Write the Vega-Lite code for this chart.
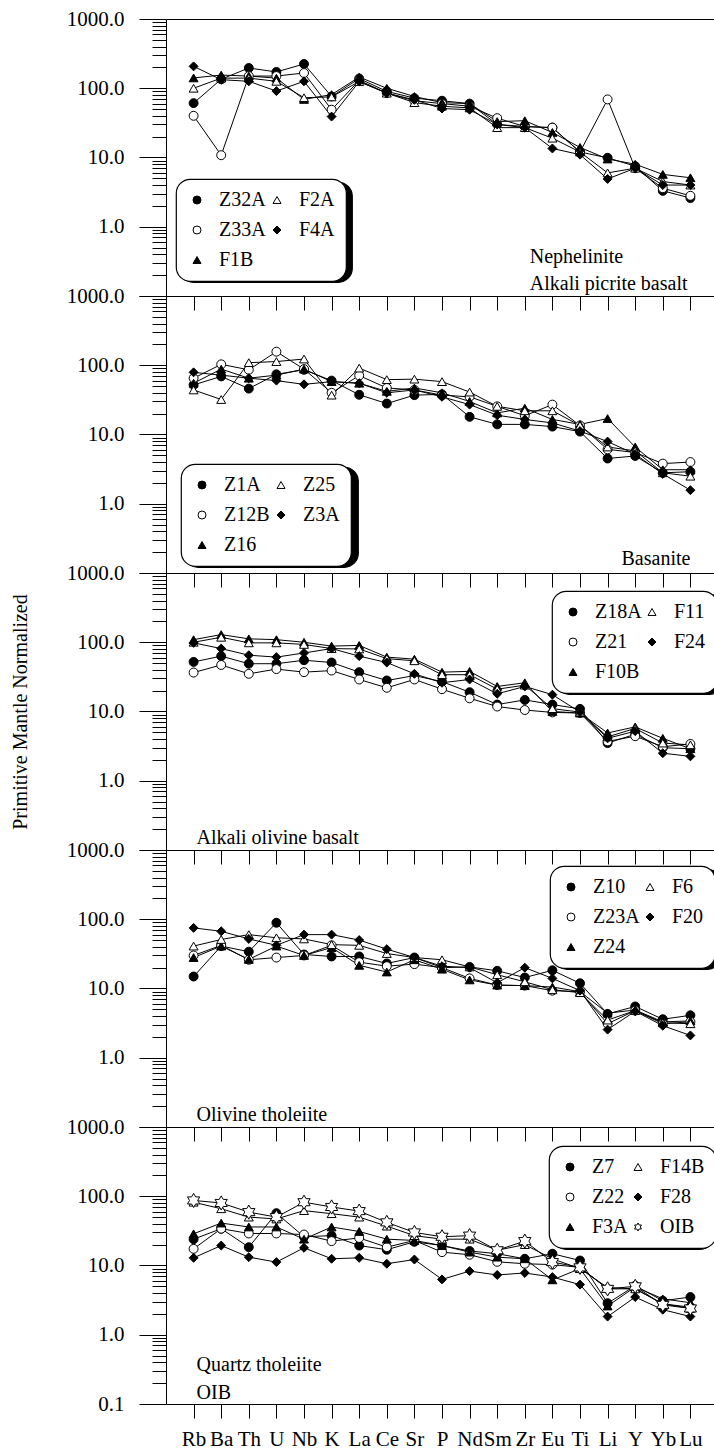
{
"$schema":"https://vega.github.io/schema/vega-lite/v6.json",
"background":"white",
"padding":{"left":9,"top":7,"right":0,"bottom":0},
"spacing":0,
"bounds":"flush",
"config":{
 "font":"Liberation Serif, Times New Roman, serif",
 "view":{"stroke":"black","strokeWidth":1},
 "axis":{"labelFont":"Liberation Serif, Times New Roman, serif","labelColor":"black","tickColor":"black","domain":false,"grid":false,"titleFont":"Liberation Serif, Times New Roman, serif","titleFontWeight":"normal","titleColor":"black","tickWidth":1},
 "legend":{"labelFont":"Liberation Serif, Times New Roman, serif","labelFontSize":20,"labelColor":"black","symbolSize":64,"symbolStrokeWidth":1,"padding":11,"rowPadding":10,"columnPadding":1,"labelOffset":12,"cornerRadius":14,"strokeColor":"black","strokeWidth":1.2},
 "style":{"guide-label":{"font":"Liberation Serif, Times New Roman, serif"},"guide-title":{"font":"Liberation Serif, Times New Roman, serif"}}
},
"datasets":{
"pm":[
{"p":1,"s":"Z32A","e":"Rb","v":61},{"p":1,"s":"Z32A","e":"Ba","v":135},{"p":1,"s":"Z32A","e":"Th","v":196},{"p":1,"s":"Z32A","e":"U","v":172},{"p":1,"s":"Z32A","e":"Nb","v":224},{"p":1,"s":"Z32A","e":"K","v":76},{"p":1,"s":"Z32A","e":"La","v":138},{"p":1,"s":"Z32A","e":"Ce","v":90},{"p":1,"s":"Z32A","e":"Sr","v":72},{"p":1,"s":"Z32A","e":"P","v":66},{"p":1,"s":"Z32A","e":"Nd","v":60},{"p":1,"s":"Z32A","e":"Sm","v":30},{"p":1,"s":"Z32A","e":"Zr","v":28},{"p":1,"s":"Z32A","e":"Eu","v":27},{"p":1,"s":"Z32A","e":"Ti","v":12},{"p":1,"s":"Z32A","e":"Li","v":9.9},{"p":1,"s":"Z32A","e":"Y","v":7.5},{"p":1,"s":"Z32A","e":"Yb","v":3.3},{"p":1,"s":"Z32A","e":"Lu","v":2.6},
{"p":1,"s":"Z33A","e":"Rb","v":40},{"p":1,"s":"Z33A","e":"Ba","v":10.8},{"p":1,"s":"Z33A","e":"Th","v":150},{"p":1,"s":"Z33A","e":"U","v":150},{"p":1,"s":"Z33A","e":"Nb","v":166},{"p":1,"s":"Z33A","e":"K","v":49},{"p":1,"s":"Z33A","e":"La","v":130},{"p":1,"s":"Z33A","e":"Ce","v":85},{"p":1,"s":"Z33A","e":"Sr","v":66},{"p":1,"s":"Z33A","e":"P","v":60},{"p":1,"s":"Z33A","e":"Nd","v":55},{"p":1,"s":"Z33A","e":"Sm","v":37},{"p":1,"s":"Z33A","e":"Zr","v":28},{"p":1,"s":"Z33A","e":"Eu","v":27},{"p":1,"s":"Z33A","e":"Ti","v":12},{"p":1,"s":"Z33A","e":"Li","v":69},{"p":1,"s":"Z33A","e":"Y","v":7},{"p":1,"s":"Z33A","e":"Yb","v":3.6},{"p":1,"s":"Z33A","e":"Lu","v":2.8},
{"p":1,"s":"F1B","e":"Rb","v":141},{"p":1,"s":"F1B","e":"Ba","v":155},{"p":1,"s":"F1B","e":"Th","v":150},{"p":1,"s":"F1B","e":"U","v":140},{"p":1,"s":"F1B","e":"Nb","v":69},{"p":1,"s":"F1B","e":"K","v":81},{"p":1,"s":"F1B","e":"La","v":145},{"p":1,"s":"F1B","e":"Ce","v":100},{"p":1,"s":"F1B","e":"Sr","v":76},{"p":1,"s":"F1B","e":"P","v":62},{"p":1,"s":"F1B","e":"Nd","v":60},{"p":1,"s":"F1B","e":"Sm","v":33},{"p":1,"s":"F1B","e":"Zr","v":34},{"p":1,"s":"F1B","e":"Eu","v":23},{"p":1,"s":"F1B","e":"Ti","v":14},{"p":1,"s":"F1B","e":"Li","v":9.5},{"p":1,"s":"F1B","e":"Y","v":8},{"p":1,"s":"F1B","e":"Yb","v":5.7},{"p":1,"s":"F1B","e":"Lu","v":5.1},
{"p":1,"s":"F2A","e":"Rb","v":100},{"p":1,"s":"F2A","e":"Ba","v":140},{"p":1,"s":"F2A","e":"Th","v":140},{"p":1,"s":"F2A","e":"U","v":126},{"p":1,"s":"F2A","e":"Nb","v":73},{"p":1,"s":"F2A","e":"K","v":75},{"p":1,"s":"F2A","e":"La","v":125},{"p":1,"s":"F2A","e":"Ce","v":85},{"p":1,"s":"F2A","e":"Sr","v":62},{"p":1,"s":"F2A","e":"P","v":55},{"p":1,"s":"F2A","e":"Nd","v":52},{"p":1,"s":"F2A","e":"Sm","v":27},{"p":1,"s":"F2A","e":"Zr","v":27},{"p":1,"s":"F2A","e":"Eu","v":19},{"p":1,"s":"F2A","e":"Ti","v":12},{"p":1,"s":"F2A","e":"Li","v":6},{"p":1,"s":"F2A","e":"Y","v":7},{"p":1,"s":"F2A","e":"Yb","v":4.5},{"p":1,"s":"F2A","e":"Lu","v":4},
{"p":1,"s":"F4A","e":"Rb","v":207},{"p":1,"s":"F4A","e":"Ba","v":133},{"p":1,"s":"F4A","e":"Th","v":126},{"p":1,"s":"F4A","e":"U","v":91},{"p":1,"s":"F4A","e":"Nb","v":126},{"p":1,"s":"F4A","e":"K","v":39},{"p":1,"s":"F4A","e":"La","v":125},{"p":1,"s":"F4A","e":"Ce","v":85},{"p":1,"s":"F4A","e":"Sr","v":68},{"p":1,"s":"F4A","e":"P","v":51},{"p":1,"s":"F4A","e":"Nd","v":49},{"p":1,"s":"F4A","e":"Sm","v":30},{"p":1,"s":"F4A","e":"Zr","v":27},{"p":1,"s":"F4A","e":"Eu","v":13.5},{"p":1,"s":"F4A","e":"Ti","v":11},{"p":1,"s":"F4A","e":"Li","v":4.9},{"p":1,"s":"F4A","e":"Y","v":7},{"p":1,"s":"F4A","e":"Yb","v":4},{"p":1,"s":"F4A","e":"Lu","v":4},
{"p":2,"s":"Z1A","e":"Rb","v":52},{"p":2,"s":"Z1A","e":"Ba","v":69},{"p":2,"s":"Z1A","e":"Th","v":46},{"p":2,"s":"Z1A","e":"U","v":74},{"p":2,"s":"Z1A","e":"Nb","v":86},{"p":2,"s":"Z1A","e":"K","v":60},{"p":2,"s":"Z1A","e":"La","v":37.5},{"p":2,"s":"Z1A","e":"Ce","v":28},{"p":2,"s":"Z1A","e":"Sr","v":37},{"p":2,"s":"Z1A","e":"P","v":38},{"p":2,"s":"Z1A","e":"Nd","v":18},{"p":2,"s":"Z1A","e":"Sm","v":14},{"p":2,"s":"Z1A","e":"Zr","v":14},{"p":2,"s":"Z1A","e":"Eu","v":13},{"p":2,"s":"Z1A","e":"Ti","v":11},{"p":2,"s":"Z1A","e":"Li","v":4.5},{"p":2,"s":"Z1A","e":"Y","v":4.9},{"p":2,"s":"Z1A","e":"Yb","v":2.8},{"p":2,"s":"Z1A","e":"Lu","v":2.9},
{"p":2,"s":"Z12B","e":"Rb","v":65},{"p":2,"s":"Z12B","e":"Ba","v":103},{"p":2,"s":"Z12B","e":"Th","v":86},{"p":2,"s":"Z12B","e":"U","v":157},{"p":2,"s":"Z12B","e":"Nb","v":88},{"p":2,"s":"Z12B","e":"K","v":40},{"p":2,"s":"Z12B","e":"La","v":71},{"p":2,"s":"Z12B","e":"Ce","v":47},{"p":2,"s":"Z12B","e":"Sr","v":44},{"p":2,"s":"Z12B","e":"P","v":37},{"p":2,"s":"Z12B","e":"Nd","v":35},{"p":2,"s":"Z12B","e":"Sm","v":25.5},{"p":2,"s":"Z12B","e":"Zr","v":18.7},{"p":2,"s":"Z12B","e":"Eu","v":27},{"p":2,"s":"Z12B","e":"Ti","v":13.5},{"p":2,"s":"Z12B","e":"Li","v":6.1},{"p":2,"s":"Z12B","e":"Y","v":5.5},{"p":2,"s":"Z12B","e":"Yb","v":3.8},{"p":2,"s":"Z12B","e":"Lu","v":4},
{"p":2,"s":"Z16","e":"Rb","v":55},{"p":2,"s":"Z16","e":"Ba","v":88},{"p":2,"s":"Z16","e":"Th","v":65},{"p":2,"s":"Z16","e":"U","v":72},{"p":2,"s":"Z16","e":"Nb","v":88},{"p":2,"s":"Z16","e":"K","v":58},{"p":2,"s":"Z16","e":"La","v":55},{"p":2,"s":"Z16","e":"Ce","v":42},{"p":2,"s":"Z16","e":"Sr","v":47},{"p":2,"s":"Z16","e":"P","v":40},{"p":2,"s":"Z16","e":"Nd","v":30},{"p":2,"s":"Z16","e":"Sm","v":20.5},{"p":2,"s":"Z16","e":"Zr","v":24},{"p":2,"s":"Z16","e":"Eu","v":16.5},{"p":2,"s":"Z16","e":"Ti","v":14},{"p":2,"s":"Z16","e":"Li","v":17},{"p":2,"s":"Z16","e":"Y","v":6.6},{"p":2,"s":"Z16","e":"Yb","v":3.1},{"p":2,"s":"Z16","e":"Lu","v":3.1},
{"p":2,"s":"Z25","e":"Rb","v":44},{"p":2,"s":"Z25","e":"Ba","v":32},{"p":2,"s":"Z25","e":"Th","v":109},{"p":2,"s":"Z25","e":"U","v":113},{"p":2,"s":"Z25","e":"Nb","v":123},{"p":2,"s":"Z25","e":"K","v":37},{"p":2,"s":"Z25","e":"La","v":91},{"p":2,"s":"Z25","e":"Ce","v":62},{"p":2,"s":"Z25","e":"Sr","v":63},{"p":2,"s":"Z25","e":"P","v":58},{"p":2,"s":"Z25","e":"Nd","v":41},{"p":2,"s":"Z25","e":"Sm","v":25.5},{"p":2,"s":"Z25","e":"Zr","v":22},{"p":2,"s":"Z25","e":"Eu","v":22},{"p":2,"s":"Z25","e":"Ti","v":13.5},{"p":2,"s":"Z25","e":"Li","v":6.6},{"p":2,"s":"Z25","e":"Y","v":5.8},{"p":2,"s":"Z25","e":"Yb","v":2.8},{"p":2,"s":"Z25","e":"Lu","v":2.5},
{"p":2,"s":"Z3A","e":"Rb","v":79},{"p":2,"s":"Z3A","e":"Ba","v":72},{"p":2,"s":"Z3A","e":"Th","v":65},{"p":2,"s":"Z3A","e":"U","v":60},{"p":2,"s":"Z3A","e":"Nb","v":53},{"p":2,"s":"Z3A","e":"K","v":58},{"p":2,"s":"Z3A","e":"La","v":55},{"p":2,"s":"Z3A","e":"Ce","v":40},{"p":2,"s":"Z3A","e":"Sr","v":44},{"p":2,"s":"Z3A","e":"P","v":35},{"p":2,"s":"Z3A","e":"Nd","v":27},{"p":2,"s":"Z3A","e":"Sm","v":19},{"p":2,"s":"Z3A","e":"Zr","v":16.5},{"p":2,"s":"Z3A","e":"Eu","v":14.7},{"p":2,"s":"Z3A","e":"Ti","v":11.2},{"p":2,"s":"Z3A","e":"Li","v":7.9},{"p":2,"s":"Z3A","e":"Y","v":5.2},{"p":2,"s":"Z3A","e":"Yb","v":2.7},{"p":2,"s":"Z3A","e":"Lu","v":1.57},
{"p":3,"s":"Z18A","e":"Rb","v":52},{"p":3,"s":"Z18A","e":"Ba","v":63},{"p":3,"s":"Z18A","e":"Th","v":49},{"p":3,"s":"Z18A","e":"U","v":49},{"p":3,"s":"Z18A","e":"Nb","v":55},{"p":3,"s":"Z18A","e":"K","v":51},{"p":3,"s":"Z18A","e":"La","v":37},{"p":3,"s":"Z18A","e":"Ce","v":28},{"p":3,"s":"Z18A","e":"Sr","v":33},{"p":3,"s":"Z18A","e":"P","v":27},{"p":3,"s":"Z18A","e":"Nd","v":19},{"p":3,"s":"Z18A","e":"Sm","v":12.6},{"p":3,"s":"Z18A","e":"Zr","v":14.7},{"p":3,"s":"Z18A","e":"Eu","v":12.6},{"p":3,"s":"Z18A","e":"Ti","v":10.9},{"p":3,"s":"Z18A","e":"Li","v":3.5},{"p":3,"s":"Z18A","e":"Y","v":4.7},{"p":3,"s":"Z18A","e":"Yb","v":3},{"p":3,"s":"Z18A","e":"Lu","v":2.9},
{"p":3,"s":"Z21","e":"Rb","v":36.5},{"p":3,"s":"Z21","e":"Ba","v":47},{"p":3,"s":"Z21","e":"Th","v":35},{"p":3,"s":"Z21","e":"U","v":41},{"p":3,"s":"Z21","e":"Nb","v":37},{"p":3,"s":"Z21","e":"K","v":39},{"p":3,"s":"Z21","e":"La","v":29},{"p":3,"s":"Z21","e":"Ce","v":22},{"p":3,"s":"Z21","e":"Sr","v":29},{"p":3,"s":"Z21","e":"P","v":21},{"p":3,"s":"Z21","e":"Nd","v":15.5},{"p":3,"s":"Z21","e":"Sm","v":11.8},{"p":3,"s":"Z21","e":"Zr","v":10.5},{"p":3,"s":"Z21","e":"Eu","v":9.7},{"p":3,"s":"Z21","e":"Ti","v":9.5},{"p":3,"s":"Z21","e":"Li","v":3.7},{"p":3,"s":"Z21","e":"Y","v":4.4},{"p":3,"s":"Z21","e":"Yb","v":3.1},{"p":3,"s":"Z21","e":"Lu","v":3.4},
{"p":3,"s":"F10B","e":"Rb","v":109},{"p":3,"s":"F10B","e":"Ba","v":129},{"p":3,"s":"F10B","e":"Th","v":112},{"p":3,"s":"F10B","e":"U","v":109},{"p":3,"s":"F10B","e":"Nb","v":100},{"p":3,"s":"F10B","e":"K","v":88},{"p":3,"s":"F10B","e":"La","v":90},{"p":3,"s":"F10B","e":"Ce","v":61},{"p":3,"s":"F10B","e":"Sr","v":57},{"p":3,"s":"F10B","e":"P","v":37},{"p":3,"s":"F10B","e":"Nd","v":38},{"p":3,"s":"F10B","e":"Sm","v":23},{"p":3,"s":"F10B","e":"Zr","v":26},{"p":3,"s":"F10B","e":"Eu","v":10},{"p":3,"s":"F10B","e":"Ti","v":9.5},{"p":3,"s":"F10B","e":"Li","v":4.9},{"p":3,"s":"F10B","e":"Y","v":6},{"p":3,"s":"F10B","e":"Yb","v":4.1},{"p":3,"s":"F10B","e":"Lu","v":2.9},
{"p":3,"s":"F11","e":"Rb","v":100},{"p":3,"s":"F11","e":"Ba","v":118},{"p":3,"s":"F11","e":"Th","v":98},{"p":3,"s":"F11","e":"U","v":98},{"p":3,"s":"F11","e":"Nb","v":93},{"p":3,"s":"F11","e":"K","v":81},{"p":3,"s":"F11","e":"La","v":80},{"p":3,"s":"F11","e":"Ce","v":58},{"p":3,"s":"F11","e":"Sr","v":54},{"p":3,"s":"F11","e":"P","v":34},{"p":3,"s":"F11","e":"Nd","v":34},{"p":3,"s":"F11","e":"Sm","v":21},{"p":3,"s":"F11","e":"Zr","v":24},{"p":3,"s":"F11","e":"Eu","v":11},{"p":3,"s":"F11","e":"Ti","v":9.8},{"p":3,"s":"F11","e":"Li","v":4.3},{"p":3,"s":"F11","e":"Y","v":5.7},{"p":3,"s":"F11","e":"Yb","v":3.5},{"p":3,"s":"F11","e":"Lu","v":3.3},
{"p":3,"s":"F24","e":"Rb","v":98},{"p":3,"s":"F24","e":"Ba","v":81},{"p":3,"s":"F24","e":"Th","v":65},{"p":3,"s":"F24","e":"U","v":61},{"p":3,"s":"F24","e":"Nb","v":70},{"p":3,"s":"F24","e":"K","v":81},{"p":3,"s":"F24","e":"La","v":63},{"p":3,"s":"F24","e":"Ce","v":51},{"p":3,"s":"F24","e":"Sr","v":35},{"p":3,"s":"F24","e":"P","v":26},{"p":3,"s":"F24","e":"Nd","v":29},{"p":3,"s":"F24","e":"Sm","v":18},{"p":3,"s":"F24","e":"Zr","v":23},{"p":3,"s":"F24","e":"Eu","v":17.5},{"p":3,"s":"F24","e":"Ti","v":9.8},{"p":3,"s":"F24","e":"Li","v":4.1},{"p":3,"s":"F24","e":"Y","v":5.2},{"p":3,"s":"F24","e":"Yb","v":2.5},{"p":3,"s":"F24","e":"Lu","v":2.25},
{"p":4,"s":"Z10","e":"Rb","v":14.9},{"p":4,"s":"Z10","e":"Ba","v":41},{"p":4,"s":"Z10","e":"Th","v":34},{"p":4,"s":"Z10","e":"U","v":89},{"p":4,"s":"Z10","e":"Nb","v":31},{"p":4,"s":"Z10","e":"K","v":29},{"p":4,"s":"Z10","e":"La","v":29},{"p":4,"s":"Z10","e":"Ce","v":23},{"p":4,"s":"Z10","e":"Sr","v":28},{"p":4,"s":"Z10","e":"P","v":20},{"p":4,"s":"Z10","e":"Nd","v":20.5},{"p":4,"s":"Z10","e":"Sm","v":18},{"p":4,"s":"Z10","e":"Zr","v":14.4},{"p":4,"s":"Z10","e":"Eu","v":18.3},{"p":4,"s":"Z10","e":"Ti","v":11.9},{"p":4,"s":"Z10","e":"Li","v":4.3},{"p":4,"s":"Z10","e":"Y","v":5.5},{"p":4,"s":"Z10","e":"Yb","v":3.6},{"p":4,"s":"Z10","e":"Lu","v":4.1},
{"p":4,"s":"Z23A","e":"Rb","v":30},{"p":4,"s":"Z23A","e":"Ba","v":42},{"p":4,"s":"Z23A","e":"Th","v":26},{"p":4,"s":"Z23A","e":"U","v":28},{"p":4,"s":"Z23A","e":"Nb","v":30},{"p":4,"s":"Z23A","e":"K","v":42},{"p":4,"s":"Z23A","e":"La","v":24},{"p":4,"s":"Z23A","e":"Ce","v":21},{"p":4,"s":"Z23A","e":"Sr","v":22.5},{"p":4,"s":"Z23A","e":"P","v":20},{"p":4,"s":"Z23A","e":"Nd","v":14},{"p":4,"s":"Z23A","e":"Sm","v":11.2},{"p":4,"s":"Z23A","e":"Zr","v":11},{"p":4,"s":"Z23A","e":"Eu","v":9.3},{"p":4,"s":"Z23A","e":"Ti","v":9},{"p":4,"s":"Z23A","e":"Li","v":3.1},{"p":4,"s":"Z23A","e":"Y","v":4.8},{"p":4,"s":"Z23A","e":"Yb","v":3.1},{"p":4,"s":"Z23A","e":"Lu","v":3.3},
{"p":4,"s":"Z24","e":"Rb","v":28},{"p":4,"s":"Z24","e":"Ba","v":41},{"p":4,"s":"Z24","e":"Th","v":26.3},{"p":4,"s":"Z24","e":"U","v":41},{"p":4,"s":"Z24","e":"Nb","v":30},{"p":4,"s":"Z24","e":"K","v":39},{"p":4,"s":"Z24","e":"La","v":21.6},{"p":4,"s":"Z24","e":"Ce","v":17.3},{"p":4,"s":"Z24","e":"Sr","v":26},{"p":4,"s":"Z24","e":"P","v":19},{"p":4,"s":"Z24","e":"Nd","v":13.3},{"p":4,"s":"Z24","e":"Sm","v":11.2},{"p":4,"s":"Z24","e":"Zr","v":11},{"p":4,"s":"Z24","e":"Eu","v":10.5},{"p":4,"s":"Z24","e":"Ti","v":9},{"p":4,"s":"Z24","e":"Li","v":4.4},{"p":4,"s":"Z24","e":"Y","v":4.9},{"p":4,"s":"Z24","e":"Yb","v":3.3},{"p":4,"s":"Z24","e":"Lu","v":3.4},
{"p":4,"s":"F6","e":"Rb","v":41},{"p":4,"s":"F6","e":"Ba","v":51},{"p":4,"s":"F6","e":"Th","v":60},{"p":4,"s":"F6","e":"U","v":54},{"p":4,"s":"F6","e":"Nb","v":52},{"p":4,"s":"F6","e":"K","v":43},{"p":4,"s":"F6","e":"La","v":42},{"p":4,"s":"F6","e":"Ce","v":32},{"p":4,"s":"F6","e":"Sr","v":28},{"p":4,"s":"F6","e":"P","v":26},{"p":4,"s":"F6","e":"Nd","v":20.5},{"p":4,"s":"F6","e":"Sm","v":15.8},{"p":4,"s":"F6","e":"Zr","v":12.5},{"p":4,"s":"F6","e":"Eu","v":9.6},{"p":4,"s":"F6","e":"Ti","v":8.7},{"p":4,"s":"F6","e":"Li","v":3.5},{"p":4,"s":"F6","e":"Y","v":4.8},{"p":4,"s":"F6","e":"Yb","v":3.2},{"p":4,"s":"F6","e":"Lu","v":3.1},
{"p":4,"s":"F20","e":"Rb","v":75},{"p":4,"s":"F20","e":"Ba","v":67},{"p":4,"s":"F20","e":"Th","v":52},{"p":4,"s":"F20","e":"U","v":42},{"p":4,"s":"F20","e":"Nb","v":60},{"p":4,"s":"F20","e":"K","v":60},{"p":4,"s":"F20","e":"La","v":50},{"p":4,"s":"F20","e":"Ce","v":37},{"p":4,"s":"F20","e":"Sr","v":28},{"p":4,"s":"F20","e":"P","v":21},{"p":4,"s":"F20","e":"Nd","v":20},{"p":4,"s":"F20","e":"Sm","v":12.1},{"p":4,"s":"F20","e":"Zr","v":20},{"p":4,"s":"F20","e":"Eu","v":14},{"p":4,"s":"F20","e":"Ti","v":9.3},{"p":4,"s":"F20","e":"Li","v":2.55},{"p":4,"s":"F20","e":"Y","v":4.7},{"p":4,"s":"F20","e":"Yb","v":2.9},{"p":4,"s":"F20","e":"Lu","v":2.1},
{"p":5,"s":"Z7","e":"Rb","v":24},{"p":5,"s":"Z7","e":"Ba","v":34},{"p":5,"s":"Z7","e":"Th","v":18.4},{"p":5,"s":"Z7","e":"U","v":57},{"p":5,"s":"Z7","e":"Nb","v":26},{"p":5,"s":"Z7","e":"K","v":27},{"p":5,"s":"Z7","e":"La","v":19.4},{"p":5,"s":"Z7","e":"Ce","v":16.9},{"p":5,"s":"Z7","e":"Sr","v":22},{"p":5,"s":"Z7","e":"P","v":19.4},{"p":5,"s":"Z7","e":"Nd","v":16.2},{"p":5,"s":"Z7","e":"Sm","v":14.8},{"p":5,"s":"Z7","e":"Zr","v":12.5},{"p":5,"s":"Z7","e":"Eu","v":14.8},{"p":5,"s":"Z7","e":"Ti","v":11.8},{"p":5,"s":"Z7","e":"Li","v":2.85},{"p":5,"s":"Z7","e":"Y","v":5.1},{"p":5,"s":"Z7","e":"Yb","v":3.1},{"p":5,"s":"Z7","e":"Lu","v":3.5},
{"p":5,"s":"Z22","e":"Rb","v":17.4},{"p":5,"s":"Z22","e":"Ba","v":34},{"p":5,"s":"Z22","e":"Th","v":29},{"p":5,"s":"Z22","e":"U","v":29},{"p":5,"s":"Z22","e":"Nb","v":28},{"p":5,"s":"Z22","e":"K","v":22.5},{"p":5,"s":"Z22","e":"La","v":25},{"p":5,"s":"Z22","e":"Ce","v":18.4},{"p":5,"s":"Z22","e":"Sr","v":23},{"p":5,"s":"Z22","e":"P","v":15.6},{"p":5,"s":"Z22","e":"Nd","v":14.3},{"p":5,"s":"Z22","e":"Sm","v":11.3},{"p":5,"s":"Z22","e":"Zr","v":10.6},{"p":5,"s":"Z22","e":"Eu","v":10.3},{"p":5,"s":"Z22","e":"Ti","v":9.4},{"p":5,"s":"Z22","e":"Li","v":4.6},{"p":5,"s":"Z22","e":"Y","v":4.6},{"p":5,"s":"Z22","e":"Yb","v":2.8},{"p":5,"s":"Z22","e":"Lu","v":2.5},
{"p":5,"s":"F3A","e":"Rb","v":28.7},{"p":5,"s":"F3A","e":"Ba","v":41},{"p":5,"s":"F3A","e":"Th","v":36},{"p":5,"s":"F3A","e":"U","v":36},{"p":5,"s":"F3A","e":"Nb","v":24},{"p":5,"s":"F3A","e":"K","v":36},{"p":5,"s":"F3A","e":"La","v":31},{"p":5,"s":"F3A","e":"Ce","v":24},{"p":5,"s":"F3A","e":"Sr","v":23},{"p":5,"s":"F3A","e":"P","v":19.4},{"p":5,"s":"F3A","e":"Nd","v":15.6},{"p":5,"s":"F3A","e":"Sm","v":13.2},{"p":5,"s":"F3A","e":"Zr","v":12.5},{"p":5,"s":"F3A","e":"Eu","v":6.2},{"p":5,"s":"F3A","e":"Ti","v":9},{"p":5,"s":"F3A","e":"Li","v":2.6},{"p":5,"s":"F3A","e":"Y","v":4.9},{"p":5,"s":"F3A","e":"Yb","v":3.3},{"p":5,"s":"F3A","e":"Lu","v":2.9},
{"p":5,"s":"F14B","e":"Rb","v":82},{"p":5,"s":"F14B","e":"Ba","v":66},{"p":5,"s":"F14B","e":"Th","v":50},{"p":5,"s":"F14B","e":"U","v":47},{"p":5,"s":"F14B","e":"Nb","v":62},{"p":5,"s":"F14B","e":"K","v":56},{"p":5,"s":"F14B","e":"La","v":50},{"p":5,"s":"F14B","e":"Ce","v":37},{"p":5,"s":"F14B","e":"Sr","v":27},{"p":5,"s":"F14B","e":"P","v":24},{"p":5,"s":"F14B","e":"Nd","v":24},{"p":5,"s":"F14B","e":"Sm","v":16.6},{"p":5,"s":"F14B","e":"Zr","v":20},{"p":5,"s":"F14B","e":"Eu","v":12.5},{"p":5,"s":"F14B","e":"Ti","v":9},{"p":5,"s":"F14B","e":"Li","v":4.8},{"p":5,"s":"F14B","e":"Y","v":4.6},{"p":5,"s":"F14B","e":"Yb","v":2.8},{"p":5,"s":"F14B","e":"Lu","v":2.4},
{"p":5,"s":"F28","e":"Rb","v":12.9},{"p":5,"s":"F28","e":"Ba","v":19.4},{"p":5,"s":"F28","e":"Th","v":13.2},{"p":5,"s":"F28","e":"U","v":11.2},{"p":5,"s":"F28","e":"Nb","v":18},{"p":5,"s":"F28","e":"K","v":12.5},{"p":5,"s":"F28","e":"La","v":12.9},{"p":5,"s":"F28","e":"Ce","v":10.6},{"p":5,"s":"F28","e":"Sr","v":12.2},{"p":5,"s":"F28","e":"P","v":6.3},{"p":5,"s":"F28","e":"Nd","v":8.3},{"p":5,"s":"F28","e":"Sm","v":7.3},{"p":5,"s":"F28","e":"Zr","v":7.8},{"p":5,"s":"F28","e":"Eu","v":6.8},{"p":5,"s":"F28","e":"Ti","v":5.3},{"p":5,"s":"F28","e":"Li","v":1.83},{"p":5,"s":"F28","e":"Y","v":3.5},{"p":5,"s":"F28","e":"Yb","v":2.3},{"p":5,"s":"F28","e":"Lu","v":1.83},
{"p":5,"s":"OIB","e":"Rb","v":87},{"p":5,"s":"OIB","e":"Ba","v":80},{"p":5,"s":"OIB","e":"Th","v":59},{"p":5,"s":"OIB","e":"U","v":50},{"p":5,"s":"OIB","e":"Nb","v":82},{"p":5,"s":"OIB","e":"K","v":70},{"p":5,"s":"OIB","e":"La","v":61},{"p":5,"s":"OIB","e":"Ce","v":42},{"p":5,"s":"OIB","e":"Sr","v":30},{"p":5,"s":"OIB","e":"P","v":26},{"p":5,"s":"OIB","e":"Nd","v":27},{"p":5,"s":"OIB","e":"Sm","v":16.6},{"p":5,"s":"OIB","e":"Zr","v":22.5},{"p":5,"s":"OIB","e":"Eu","v":11.2},{"p":5,"s":"OIB","e":"Ti","v":9.4},{"p":5,"s":"OIB","e":"Li","v":4.6},{"p":5,"s":"OIB","e":"Y","v":5},{"p":5,"s":"OIB","e":"Yb","v":2.7},{"p":5,"s":"OIB","e":"Lu","v":2.4}
],
"notes":[
{"p":1,"e":"Zr","v":0.366,"t":"Nephelinite"},{"p":1,"e":"Zr","v":0.149,"t":"Alkali picrite basalt"},
{"p":2,"e":"Lu","v":0.16,"t":"Basanite"},
{"p":3,"e":"Rb","v":0.15,"t":"Alkali olivine basalt"},
{"p":4,"e":"Rb","v":0.15,"t":"Olivine tholeiite"},
{"p":5,"e":"Rb","v":0.37,"t":"Quartz tholeiite"},{"p":5,"e":"Rb","v":0.145,"t":"OIB"}
]
},
"vconcat":[
{"width":552,"height":277,
 "layer":[
  {"data":{"name":"pm"},"transform":[{"filter":"datum.p == 1"}],"mark":{"type":"line","stroke":"black","strokeWidth":1},
   "encoding":{"x":{"field":"e","type":"ordinal","sort":["Rb","Ba","Th","U","Nb","K","La","Ce","Sr","P","Nd","Sm","Zr","Eu","Ti","Li","Y","Yb","Lu"],"scale":{"type":"point","padding":1},"axis":{"labels":false,"tickSize":14,"title":null}},
    "y":{"field":"v","type":"quantitative","scale":{"type":"log","domain":[0.1,1000],"nice":false},"axis":{"title":null,"values":[0.1,0.2,0.3,0.4,0.5,0.6,0.7,0.8,0.9,1,2,3,4,5,6,7,8,9,10,20,30,40,50,60,70,80,90,100,200,300,400,500,600,700,800,900,1000],"labelExpr":"indexof([1,10,100,1000], datum.value) >= 0 ? format(datum.value, '.1f') : ''","labelOverlap":false,"labelFontSize":21,"labelPadding":15,"tickSize":{"condition":{"test":"indexof([0.1,1,10,100,1000], datum.value) >= 0","value":27},"value":14}}},
    "detail":{"field":"s"}}},
  {"data":{"name":"pm"},"transform":[{"filter":"datum.p == 1"}],"mark":{"type":"point","strokeWidth":1,"opacity":1},
   "encoding":{"x":{"field":"e","type":"ordinal","sort":["Rb","Ba","Th","U","Nb","K","La","Ce","Sr","P","Nd","Sm","Zr","Eu","Ti","Li","Y","Yb","Lu"]},
    "y":{"field":"v","type":"quantitative"},
    "size":{"value":80},
    "shape":{"field":"s","type":"nominal","scale":{"domain":["Z32A","Z33A","F1B","F2A","F4A"],"range":["circle","circle","triangle-up","triangle-up","diamond"]},"legend":{"title":null,"orient":"none","legendX":10,"legendY":160,"columns":2,"columnPadding":1,"zindex":1,"fillColor":"white"}},
    "fill":{"field":"s","type":"nominal","scale":{"domain":["Z32A","Z33A","F1B","F2A","F4A"],"range":["black","white","black","white","black"]},"legend":{"title":null,"orient":"none","legendX":10,"legendY":160,"columns":2,"columnPadding":1,"zindex":1,"fillColor":"white"}},
    "stroke":{"field":"s","type":"nominal","scale":{"domain":["Z32A","Z33A","F1B","F2A","F4A"],"range":["black","black","black","black","black"]},"legend":{"title":null,"orient":"none","legendX":10,"legendY":160,"columns":2,"columnPadding":1,"zindex":1,"fillColor":"white"}},
    "opacity":{"field":"s","type":"nominal","scale":{"domain":["Z33A","Z32A","F1B","F4A","F2A"],"range":[1,1,1,1,1]},"legend":{"title":null,"orient":"none","legendX":13,"legendY":163,"columns":2,"zindex":0,"fillColor":"black","symbolType":"square","symbolSize":400,"symbolFillColor":"black","symbolStrokeColor":"black","labelExpr":"''","columnPadding":83,"rowPadding":2.5}}}},
  {"data":{"name":"notes"},"transform":[{"filter":"datum.p == 1"}],"mark":{"type":"text","align":"left","baseline":"middle","fontSize":20,"dx":5,"color":"black"},
   "encoding":{"x":{"field":"e","type":"ordinal","sort":["Rb","Ba","Th","U","Nb","K","La","Ce","Sr","P","Nd","Sm","Zr","Eu","Ti","Li","Y","Yb","Lu"]},"y":{"field":"v","type":"quantitative"},"text":{"field":"t"}}}
 ]},
{"width":552,"height":277,
 "layer":[
  {"data":{"name":"pm"},"transform":[{"filter":"datum.p == 2"}],"mark":{"type":"line","stroke":"black","strokeWidth":1},
   "encoding":{"x":{"field":"e","type":"ordinal","sort":["Rb","Ba","Th","U","Nb","K","La","Ce","Sr","P","Nd","Sm","Zr","Eu","Ti","Li","Y","Yb","Lu"],"scale":{"type":"point","padding":1},"axis":{"labels":false,"tickSize":14,"title":null}},
    "y":{"field":"v","type":"quantitative","scale":{"type":"log","domain":[0.1,1000],"nice":false},"axis":{"title":null,"values":[0.1,0.2,0.3,0.4,0.5,0.6,0.7,0.8,0.9,1,2,3,4,5,6,7,8,9,10,20,30,40,50,60,70,80,90,100,200,300,400,500,600,700,800,900,1000],"labelExpr":"indexof([1,10,100,1000], datum.value) >= 0 ? format(datum.value, '.1f') : ''","labelOverlap":false,"labelFontSize":21,"labelPadding":15,"tickSize":{"condition":{"test":"indexof([0.1,1,10,100,1000], datum.value) >= 0","value":27},"value":14}}},
    "detail":{"field":"s"}}},
  {"data":{"name":"pm"},"transform":[{"filter":"datum.p == 2"}],"mark":{"type":"point","strokeWidth":1,"opacity":1},
   "encoding":{"x":{"field":"e","type":"ordinal","sort":["Rb","Ba","Th","U","Nb","K","La","Ce","Sr","P","Nd","Sm","Zr","Eu","Ti","Li","Y","Yb","Lu"]},
    "y":{"field":"v","type":"quantitative"},
    "size":{"value":80},
    "shape":{"field":"s","type":"nominal","scale":{"domain":["Z1A","Z12B","Z16","Z25","Z3A"],"range":["circle","circle","triangle-up","triangle-up","diamond"]},"legend":{"title":null,"orient":"none","legendX":15,"legendY":168,"columns":2,"columnPadding":1,"zindex":1,"fillColor":"white"}},
    "fill":{"field":"s","type":"nominal","scale":{"domain":["Z1A","Z12B","Z16","Z25","Z3A"],"range":["black","white","black","white","black"]},"legend":{"title":null,"orient":"none","legendX":15,"legendY":168,"columns":2,"columnPadding":1,"zindex":1,"fillColor":"white"}},
    "stroke":{"field":"s","type":"nominal","scale":{"domain":["Z1A","Z12B","Z16","Z25","Z3A"],"range":["black","black","black","black","black"]},"legend":{"title":null,"orient":"none","legendX":15,"legendY":168,"columns":2,"columnPadding":1,"zindex":1,"fillColor":"white"}},
    "opacity":{"field":"s","type":"nominal","scale":{"domain":["Z12B","Z1A","Z16","Z3A","Z25"],"range":[1,1,1,1,1]},"legend":{"title":null,"orient":"none","legendX":18,"legendY":171,"columns":2,"zindex":0,"fillColor":"black","symbolType":"square","symbolSize":400,"symbolFillColor":"black","symbolStrokeColor":"black","labelExpr":"''","columnPadding":84,"rowPadding":2.5}}}},
  {"data":{"name":"notes"},"transform":[{"filter":"datum.p == 2"}],"mark":{"type":"text","align":"right","baseline":"middle","fontSize":20,"dx":0,"color":"black"},
   "encoding":{"x":{"field":"e","type":"ordinal","sort":["Rb","Ba","Th","U","Nb","K","La","Ce","Sr","P","Nd","Sm","Zr","Eu","Ti","Li","Y","Yb","Lu"]},"y":{"field":"v","type":"quantitative"},"text":{"field":"t"}}}
 ]},
{"width":552,"height":277,
 "layer":[
  {"data":{"name":"pm"},"transform":[{"filter":"datum.p == 3"}],"mark":{"type":"line","stroke":"black","strokeWidth":1},
   "encoding":{"x":{"field":"e","type":"ordinal","sort":["Rb","Ba","Th","U","Nb","K","La","Ce","Sr","P","Nd","Sm","Zr","Eu","Ti","Li","Y","Yb","Lu"],"scale":{"type":"point","padding":1},"axis":{"labels":false,"tickSize":14,"title":null}},
    "y":{"field":"v","type":"quantitative","scale":{"type":"log","domain":[0.1,1000],"nice":false},"axis":{"title":"Primitive Mantle Normalized","titleFontSize":20,"titlePadding":36,"values":[0.1,0.2,0.3,0.4,0.5,0.6,0.7,0.8,0.9,1,2,3,4,5,6,7,8,9,10,20,30,40,50,60,70,80,90,100,200,300,400,500,600,700,800,900,1000],"labelExpr":"indexof([1,10,100,1000], datum.value) >= 0 ? format(datum.value, '.1f') : ''","labelOverlap":false,"labelFontSize":21,"labelPadding":15,"tickSize":{"condition":{"test":"indexof([0.1,1,10,100,1000], datum.value) >= 0","value":27},"value":14}}},
    "detail":{"field":"s"}}},
  {"data":{"name":"pm"},"transform":[{"filter":"datum.p == 3"}],"mark":{"type":"point","strokeWidth":1,"opacity":1},
   "encoding":{"x":{"field":"e","type":"ordinal","sort":["Rb","Ba","Th","U","Nb","K","La","Ce","Sr","P","Nd","Sm","Zr","Eu","Ti","Li","Y","Yb","Lu"]},
    "y":{"field":"v","type":"quantitative"},
    "size":{"value":80},
    "shape":{"field":"s","type":"nominal","scale":{"domain":["Z18A","Z21","F10B","F11","F24"],"range":["circle","circle","triangle-up","triangle-up","diamond"]},"legend":{"title":null,"orient":"none","legendX":386,"legendY":18,"columns":2,"columnPadding":-4,"zindex":1,"fillColor":"white"}},
    "fill":{"field":"s","type":"nominal","scale":{"domain":["Z18A","Z21","F10B","F11","F24"],"range":["black","white","black","white","black"]},"legend":{"title":null,"orient":"none","legendX":386,"legendY":18,"columns":2,"columnPadding":-4,"zindex":1,"fillColor":"white"}},
    "stroke":{"field":"s","type":"nominal","scale":{"domain":["Z18A","Z21","F10B","F11","F24"],"range":["black","black","black","black","black"]},"legend":{"title":null,"orient":"none","legendX":386,"legendY":18,"columns":2,"columnPadding":-4,"zindex":1,"fillColor":"white"}},
    "opacity":{"field":"s","type":"nominal","scale":{"domain":["Z21","Z18A","F10B","F24","F11"],"range":[1,1,1,1,1]},"legend":{"title":null,"orient":"none","legendX":389,"legendY":21,"columns":2,"zindex":0,"fillColor":"black","symbolType":"square","symbolSize":400,"symbolFillColor":"black","symbolStrokeColor":"black","labelExpr":"''","columnPadding":78,"rowPadding":2.5}}}},
  {"data":{"name":"notes"},"transform":[{"filter":"datum.p == 3"}],"mark":{"type":"text","align":"left","baseline":"middle","fontSize":20,"dx":3,"color":"black"},
   "encoding":{"x":{"field":"e","type":"ordinal","sort":["Rb","Ba","Th","U","Nb","K","La","Ce","Sr","P","Nd","Sm","Zr","Eu","Ti","Li","Y","Yb","Lu"]},"y":{"field":"v","type":"quantitative"},"text":{"field":"t"}}}
 ]},
{"width":552,"height":277,
 "layer":[
  {"data":{"name":"pm"},"transform":[{"filter":"datum.p == 4"}],"mark":{"type":"line","stroke":"black","strokeWidth":1},
   "encoding":{"x":{"field":"e","type":"ordinal","sort":["Rb","Ba","Th","U","Nb","K","La","Ce","Sr","P","Nd","Sm","Zr","Eu","Ti","Li","Y","Yb","Lu"],"scale":{"type":"point","padding":1},"axis":{"labels":false,"tickSize":14,"title":null}},
    "y":{"field":"v","type":"quantitative","scale":{"type":"log","domain":[0.1,1000],"nice":false},"axis":{"title":null,"values":[0.1,0.2,0.3,0.4,0.5,0.6,0.7,0.8,0.9,1,2,3,4,5,6,7,8,9,10,20,30,40,50,60,70,80,90,100,200,300,400,500,600,700,800,900,1000],"labelExpr":"indexof([1,10,100,1000], datum.value) >= 0 ? format(datum.value, '.1f') : ''","labelOverlap":false,"labelFontSize":21,"labelPadding":15,"tickSize":{"condition":{"test":"indexof([0.1,1,10,100,1000], datum.value) >= 0","value":27},"value":14}}},
    "detail":{"field":"s"}}},
  {"data":{"name":"pm"},"transform":[{"filter":"datum.p == 4"}],"mark":{"type":"point","strokeWidth":1,"opacity":1},
   "encoding":{"x":{"field":"e","type":"ordinal","sort":["Rb","Ba","Th","U","Nb","K","La","Ce","Sr","P","Nd","Sm","Zr","Eu","Ti","Li","Y","Yb","Lu"]},
    "y":{"field":"v","type":"quantitative"},
    "size":{"value":80},
    "shape":{"field":"s","type":"nominal","scale":{"domain":["Z10","Z23A","Z24","F6","F20"],"range":["circle","circle","triangle-up","triangle-up","diamond"]},"legend":{"title":null,"orient":"none","legendX":384,"legendY":16,"columns":2,"columnPadding":-4,"zindex":1,"fillColor":"white"}},
    "fill":{"field":"s","type":"nominal","scale":{"domain":["Z10","Z23A","Z24","F6","F20"],"range":["black","white","black","white","black"]},"legend":{"title":null,"orient":"none","legendX":384,"legendY":16,"columns":2,"columnPadding":-4,"zindex":1,"fillColor":"white"}},
    "stroke":{"field":"s","type":"nominal","scale":{"domain":["Z10","Z23A","Z24","F6","F20"],"range":["black","black","black","black","black"]},"legend":{"title":null,"orient":"none","legendX":384,"legendY":16,"columns":2,"columnPadding":-4,"zindex":1,"fillColor":"white"}},
    "opacity":{"field":"s","type":"nominal","scale":{"domain":["Z23A","Z10","Z24","F20","F6"],"range":[1,1,1,1,1]},"legend":{"title":null,"orient":"none","legendX":387,"legendY":19,"columns":2,"zindex":0,"fillColor":"black","symbolType":"square","symbolSize":400,"symbolFillColor":"black","symbolStrokeColor":"black","labelExpr":"''","columnPadding":78,"rowPadding":2.5}}}},
  {"data":{"name":"notes"},"transform":[{"filter":"datum.p == 4"}],"mark":{"type":"text","align":"left","baseline":"middle","fontSize":20,"dx":3,"color":"black"},
   "encoding":{"x":{"field":"e","type":"ordinal","sort":["Rb","Ba","Th","U","Nb","K","La","Ce","Sr","P","Nd","Sm","Zr","Eu","Ti","Li","Y","Yb","Lu"]},"y":{"field":"v","type":"quantitative"},"text":{"field":"t"}}}
 ]},
{"width":552,"height":277,
 "layer":[
  {"data":{"name":"pm"},"transform":[{"filter":"datum.p == 5"}],"mark":{"type":"line","stroke":"black","strokeWidth":1},
   "encoding":{"x":{"field":"e","type":"ordinal","sort":["Rb","Ba","Th","U","Nb","K","La","Ce","Sr","P","Nd","Sm","Zr","Eu","Ti","Li","Y","Yb","Lu"],"scale":{"type":"point","padding":1},"axis":{"labelFontSize":21,"labelAngle":0,"labelPadding":10,"tickSize":14,"title":null}},
    "y":{"field":"v","type":"quantitative","scale":{"type":"log","domain":[0.1,1000],"nice":false},"axis":{"title":null,"values":[0.1,0.2,0.3,0.4,0.5,0.6,0.7,0.8,0.9,1,2,3,4,5,6,7,8,9,10,20,30,40,50,60,70,80,90,100,200,300,400,500,600,700,800,900,1000],"labelExpr":"indexof([0.1,1,10,100,1000], datum.value) >= 0 ? format(datum.value, '.1f') : ''","labelOverlap":false,"labelFontSize":21,"labelPadding":15,"tickSize":{"condition":{"test":"indexof([0.1,1,10,100,1000], datum.value) >= 0","value":27},"value":14}}},
    "detail":{"field":"s"}}},
  {"data":{"name":"pm"},"transform":[{"filter":"datum.p == 5"}],"mark":{"type":"point","strokeWidth":1,"opacity":1},
   "encoding":{"x":{"field":"e","type":"ordinal","sort":["Rb","Ba","Th","U","Nb","K","La","Ce","Sr","P","Nd","Sm","Zr","Eu","Ti","Li","Y","Yb","Lu"]},
    "y":{"field":"v","type":"quantitative"},
    "size":{"condition":{"test":"datum.s === 'OIB'","value":200},"value":80},
    "shape":{"field":"s","type":"nominal","scale":{"domain":["Z7","Z22","F3A","F14B","F28","OIB"],"range":["circle","circle","triangle-up","triangle-up","diamond","M0,-1L0.289,-0.5L0.866,-0.5L0.577,0L0.866,0.5L0.289,0.5L0,1L-0.289,0.5L-0.866,0.5L-0.577,0L-0.866,-0.5L-0.289,-0.5Z"]},"legend":{"title":null,"orient":"none","legendX":383,"legendY":19,"columns":2,"columnPadding":-15,"zindex":1,"fillColor":"white"}},
    "fill":{"field":"s","type":"nominal","scale":{"domain":["Z7","Z22","F3A","F14B","F28","OIB"],"range":["black","white","black","white","black","white"]},"legend":{"title":null,"orient":"none","legendX":383,"legendY":19,"columns":2,"columnPadding":-15,"zindex":1,"fillColor":"white"}},
    "stroke":{"field":"s","type":"nominal","scale":{"domain":["Z7","Z22","F3A","F14B","F28","OIB"],"range":["black","black","black","black","black","black"]},"legend":{"title":null,"orient":"none","legendX":383,"legendY":19,"columns":2,"columnPadding":-15,"zindex":1,"fillColor":"white"}},
    "opacity":{"field":"s","type":"nominal","scale":{"domain":["Z22","Z7","F3A","F28","F14B","OIB"],"range":[1,1,1,1,1,1]},"legend":{"title":null,"orient":"none","legendX":386,"legendY":22,"columns":2,"zindex":0,"fillColor":"black","symbolType":"square","symbolSize":400,"symbolFillColor":"black","symbolStrokeColor":"black","labelExpr":"''","columnPadding":72,"rowPadding":2.5}}}},
  {"data":{"name":"notes"},"transform":[{"filter":"datum.p == 5"}],"mark":{"type":"text","align":"left","baseline":"middle","fontSize":20,"dx":3,"color":"black"},
   "encoding":{"x":{"field":"e","type":"ordinal","sort":["Rb","Ba","Th","U","Nb","K","La","Ce","Sr","P","Nd","Sm","Zr","Eu","Ti","Li","Y","Yb","Lu"]},"y":{"field":"v","type":"quantitative"},"text":{"field":"t"}}}
 ]}
],
"resolve":{"scale":{"x":"independent","y":"independent","shape":"independent","fill":"independent","stroke":"independent","opacity":"independent"},"legend":{"shape":"independent","fill":"independent","stroke":"independent","opacity":"independent"}}
}
